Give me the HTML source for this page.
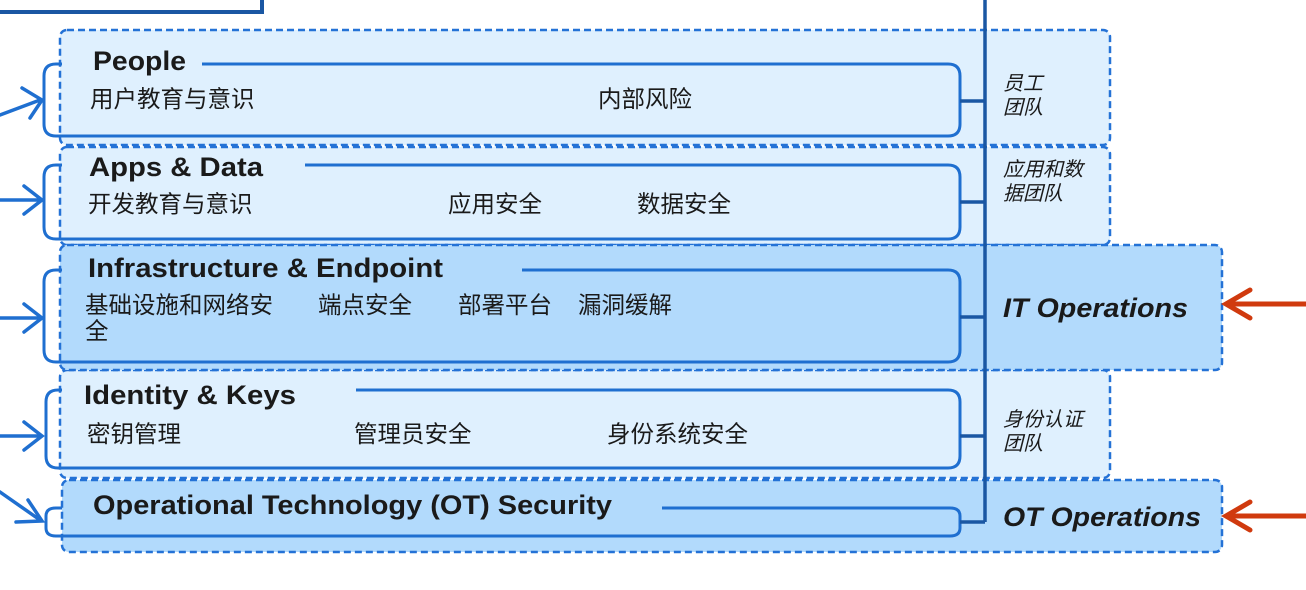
<!DOCTYPE html>
<html><head><meta charset="utf-8"><style>
html,body{margin:0;padding:0;background:#fff;width:1306px;height:590px;overflow:hidden}
svg{display:block}
.t{font-family:"Liberation Sans","Noto Sans CJK SC",sans-serif;font-weight:bold;font-size:27px;fill:#1a1a1a}
.c{font-family:"Liberation Sans","Noto Sans CJK SC",sans-serif;font-size:23.5px;fill:#1a1a1a}
.i{font-family:"Liberation Sans","Noto Sans CJK SC",sans-serif;font-style:italic;font-size:20px;fill:#1a1a1a}
.o{font-family:"Liberation Sans","Noto Sans CJK SC",sans-serif;font-style:italic;font-weight:bold;font-size:27px;fill:#1a1a1a}
</style></head><body>
<svg width="1306" height="590" viewBox="0 0 1306 590">
<path d="M0 12 H262 V0" fill="none" stroke="#1a57a3" stroke-width="4"/>
<g stroke="#2472d6" stroke-width="2.5" stroke-dasharray="7,4">
<rect x="60" y="30" width="1050" height="115" rx="7" fill="#dff0fe"/>
<rect x="60" y="147" width="1050" height="98" rx="7" fill="#dff0fe"/>
<rect x="60" y="370" width="1050" height="108" rx="7" fill="#dff0fe"/>
<rect x="60" y="245" width="1162" height="125" rx="7" fill="#b2dafc"/>
<rect x="62" y="480" width="1160" height="72" rx="7" fill="#b2dafc"/>
</g>
<g fill="none" stroke="#1f6fd0" stroke-width="3">
<path d="M62 64 H56 Q44 64 44 76 V124 Q44 136 56 136 H948 Q960 136 960 124 V76 Q960 64 948 64 H202"/>
<path d="M62 165 H56 Q44 165 44 177 V227 Q44 239 56 239 H948 Q960 239 960 227 V177 Q960 165 948 165 H305"/>
<path d="M62 270 H56 Q44 270 44 282 V350 Q44 362 56 362 H948 Q960 362 960 350 V282 Q960 270 948 270 H522"/>
<path d="M62 390 H58 Q46 390 46 402 V456 Q46 468 58 468 H948 Q960 468 960 456 V402 Q960 390 948 390 H356"/>
<path d="M62 508 H56 Q46 508 46 516 V528 Q46 536 56 536 H950 Q960 536 960 528 V516 Q960 508 950 508 H662"/>
</g>
<g stroke="#1a57a3" stroke-width="3.5" fill="none">
<path d="M985 0 V522"/>
<path d="M960 101 H985 M960 202 H985 M960 317 H985 M960 436 H985 M960 522 H985"/>
</g>
<g stroke="#1f6fd0" stroke-width="3.5" fill="none" stroke-linecap="round">
<path d="M0 115 L40 100 M22 88 L42 100 L30 118"/>
<path d="M0 200 H40 M24 186 L42 200 L24 214"/>
<path d="M0 318 H40 M24 304 L42 318 L24 332"/>
<path d="M0 436 H40 M24 422 L42 436 L24 450"/>
<path d="M0 492 L40 520 M28 500 L42 521 L16 522"/>
</g>
<g stroke="#d03a0e" stroke-width="5" fill="none" stroke-linecap="round">
<path d="M1306 304 H1228 M1250 290 L1226 304 L1250 318"/>
<path d="M1306 516 H1228 M1250 502 L1226 516 L1250 530"/>
</g>
<text class="t" x="93" y="70" textLength="93" lengthAdjust="spacingAndGlyphs">People</text>
<text class="t" x="89" y="176" textLength="174" lengthAdjust="spacingAndGlyphs">Apps &amp; Data</text>
<text class="t" x="88" y="277" textLength="355" lengthAdjust="spacingAndGlyphs">Infrastructure &amp; Endpoint</text>
<text class="t" x="84" y="404" textLength="212" lengthAdjust="spacingAndGlyphs">Identity &amp; Keys</text>
<text class="t" x="93" y="514" textLength="519" lengthAdjust="spacingAndGlyphs">Operational Technology (OT) Security</text>
<text class="c" x="90" y="107">用户教育与意识</text>
<text class="c" x="598" y="107">内部风险</text>
<text class="c" x="88" y="212">开发教育与意识</text>
<text class="c" x="448" y="212">应用安全</text>
<text class="c" x="637" y="212">数据安全</text>
<text class="c" x="85" y="313">基础设施和网络安</text>
<text class="c" x="85" y="339">全</text>
<text class="c" x="318" y="313">端点安全</text>
<text class="c" x="458" y="313">部署平台</text>
<text class="c" x="578" y="313">漏洞缓解</text>
<text class="c" x="87" y="442">密钥管理</text>
<text class="c" x="354" y="442">管理员安全</text>
<text class="c" x="607" y="442">身份系统安全</text>
<text class="i" x="1003" y="90">员工</text>
<text class="i" x="1003" y="114">团队</text>
<text class="i" x="1003" y="176">应用和数</text>
<text class="i" x="1003" y="200">据团队</text>
<text class="o" x="1003" y="317" textLength="185" lengthAdjust="spacingAndGlyphs">IT Operations</text>
<text class="i" x="1003" y="426">身份认证</text>
<text class="i" x="1003" y="450">团队</text>
<text class="o" x="1003" y="526" textLength="198" lengthAdjust="spacingAndGlyphs">OT Operations</text>
</svg>
</body></html>
